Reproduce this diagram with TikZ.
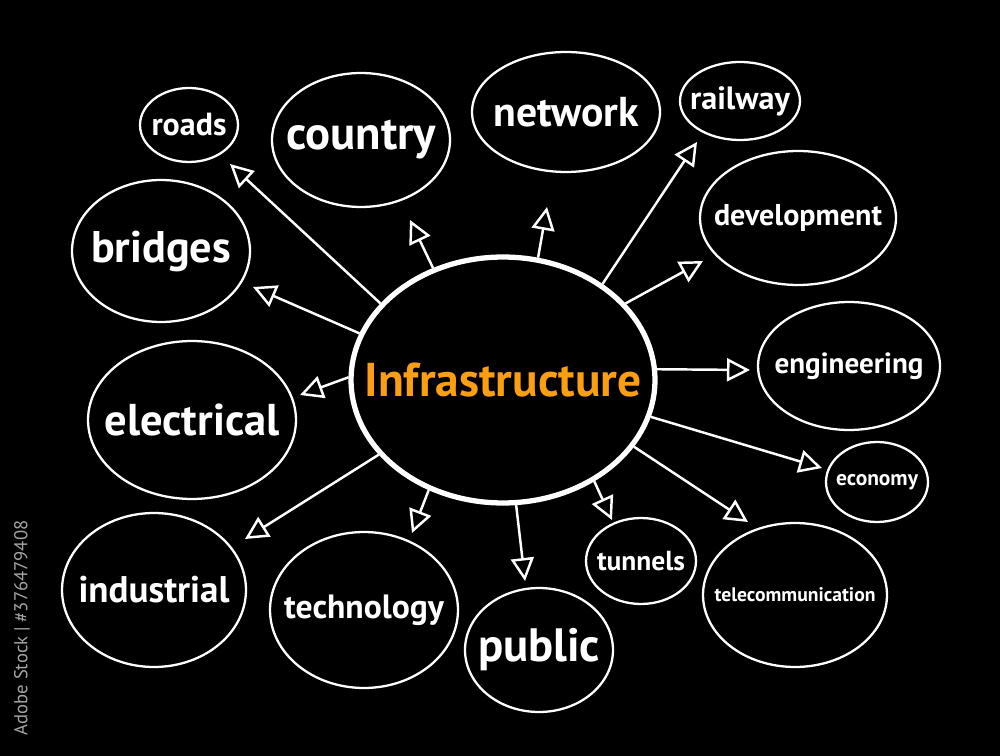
\documentclass[tikz,border=0pt]{standalone}
\usepackage{fontspec}
\setmainfont{PT Sans}
\usepackage{graphicx}
\usetikzlibrary{arrows.meta,shapes.geometric}
\definecolor{infra}{RGB}{250,158,18}
\definecolor{stockgray}{RGB}{165,165,165}
\newcommand{\fitto}[2]{\makebox[0pt]{\resizebox{#1}{!}{#2}}}

\begin{document}
\begin{tikzpicture}[x=0.02cm,y=-0.02cm,
  bubble/.style={draw=white,line width=1.3pt,ellipse,inner sep=0pt,text=white,font=\bfseries},
  link/.style={draw=white,line width=1.4pt,-{Triangle[open,length=0.46cm,width=0.46cm]}}]
  \fill[black] (0,0) rectangle (1000,756);
  \useasboundingbox (0,0) rectangle (1000,756);
  \node[bubble,line width=3pt,minimum width=6.08cm,minimum height=4.92cm,text=infra] (hub) at (503,380) {\fitto{5.54cm}{Infrastructure}};
  \node[bubble,minimum width=1.96cm,minimum height=1.48cm] (roads) at (189,125) {\fitto{1.5cm}{roads}};
  \node[bubble,minimum width=3.56cm,minimum height=2.68cm] (country) at (361,140) {\fitto{3.0cm}{country}};
  \node[bubble,minimum width=3.76cm,minimum height=2.40cm] (network) at (566,112) {\fitto{2.9cm}{network}};
  \node[bubble,minimum width=2.40cm,minimum height=1.56cm] (railway) at (740,101) {\fitto{2.0cm}{railway}};
  \node[bubble,minimum width=3.92cm,minimum height=2.68cm] (development) at (798,218) {\fitto{3.36cm}{development}};
  \node[bubble,minimum width=3.56cm,minimum height=2.84cm] (bridges) at (161,251) {\fitto{2.8cm}{bridges}};
  \node[bubble,minimum width=3.64cm,minimum height=2.56cm] (engineering) at (849,366) {\fitto{2.98cm}{engineering}};
  \node[bubble,minimum width=4.16cm,minimum height=3.16cm] (electrical) at (192,420) {\fitto{3.5cm}{electrical}};
  \node[bubble,minimum width=2.04cm,minimum height=1.60cm] (economy) at (877,482) {\fitto{1.64cm}{economy}};
  \node[bubble,minimum width=3.68cm,minimum height=3.08cm] (industrial) at (154,590) {\fitto{3.02cm}{industrial}};
  \node[bubble,minimum width=3.76cm,minimum height=3.12cm] (technology) at (364,610) {\fitto{3.2cm}{technology}};
  \node[bubble,minimum width=2.96cm,minimum height=2.48cm] (public) at (539,650) {\fitto{2.44cm}{public}};
  \node[bubble,minimum width=2.20cm,minimum height=1.72cm] (tunnels) at (641,561) {\fitto{1.76cm}{tunnels}};
  \node[bubble,minimum width=3.68cm,minimum height=2.88cm] (telecom) at (795,595) {\fitto{3.22cm}{telecommunication}};
  \coordinate (roadsTip) at (230,164);
  \coordinate (countryTip) at (410,220);
  \coordinate (networkTip) at (547,207);
  \coordinate (railwayTip) at (697,142);
  \coordinate (developmentTip) at (703,261);
  \coordinate (bridgesTip) at (253,287);
  \coordinate (engineeringTip) at (750,370);
  \coordinate (electricalTip) at (300,395);
  \coordinate (economyTip) at (822,468);
  \coordinate (telecomTip) at (748,522);
  \coordinate (tunnelsTip) at (612,520);
  \coordinate (publicTip) at (525,581);
  \coordinate (technologyTip) at (412,533);
  \coordinate (industrialTip) at (245,539);
  \draw[link] (hub.148) -- (roadsTip);
  \draw[link] (hub.122) -- (countryTip);
  \draw[link] (hub.74) -- (networkTip);
  \draw[link] (hub.44) -- (railwayTip);
  \draw[link] (hub.32) -- (developmentTip);
  \draw[link] (hub.162) -- (bridgesTip);
  \draw[link] (hub.4) -- (engineeringTip);
  \draw[link] (hub.179) -- (electricalTip);
  \draw[link] (hub.-14) -- (economyTip);
  \draw[link] (hub.-27) -- (telecomTip);
  \draw[link] (hub.-48) -- (tunnelsTip);
  \draw[link] (hub.-84) -- (publicTip);
  \draw[link] (hub.-124) -- (technologyTip);
  \draw[link] (hub.-149) -- (industrialTip);
  \node[rotate=90,text=stockgray] (stockid) at (22,628) {\fitto{4.3cm}{Adobe Stock | \#376479408}};
\end{tikzpicture}
\end{document}
